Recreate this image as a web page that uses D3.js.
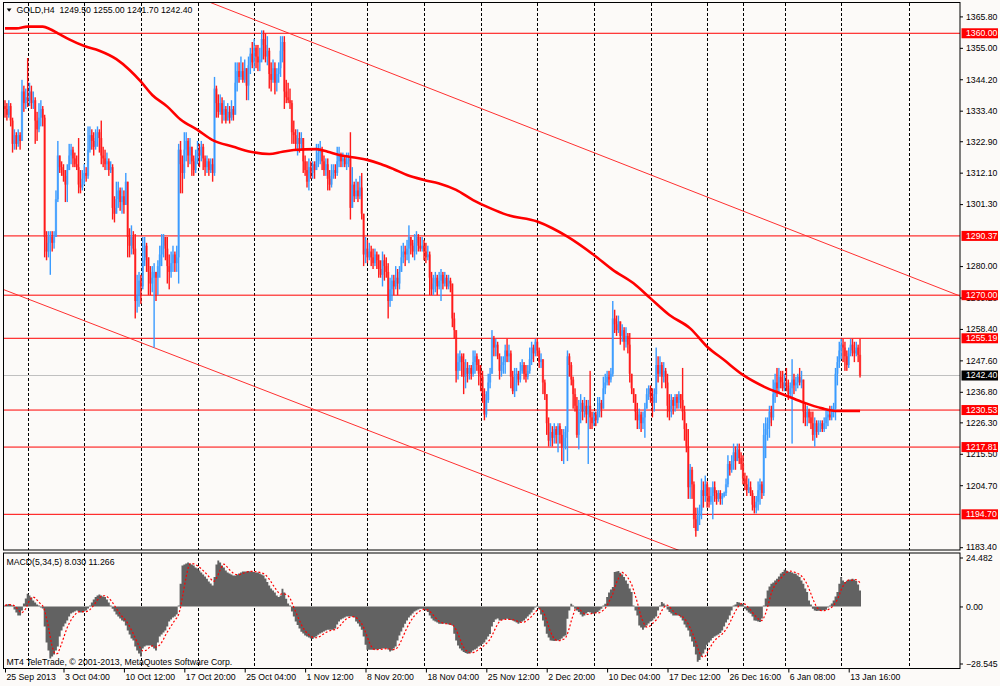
<!DOCTYPE html>
<html><head><meta charset="utf-8">
<script src="https://cdn.jsdelivr.net/npm/d3@7/dist/d3.min.js"></script>
<style>body{margin:0;background:#fcfaf8;overflow:hidden}</style>
</head><body><svg id="c" width="1000" height="686"></svg>
<script>
// ---------- DATA (GOLD, H4) ----------
const firstOpen = 1335;
const closes = [
1334,1332,1335,1330,1322,1325,1322,1325,1323,1340,
1336,1338,1337,1340,1336,1337,1330,1327,1331,1334,
1331,1290,1285,1288,1290,1288,1290,1303,1318,1314,
1313,1311,1308,1313,1318,1320,1317,1315,1314,1308,
1307,1310,1312,1311,1320,1325,1323,1321,1324,1326,
1324,1318,1317,1315,1316,1313,1314,1300,1298,1303,
1306,1302,1304,1301,1309,1290,1287,1290,1286,1268,
1270,1275,1273,1282,1287,1283,1278,1274,1276,1278,
1276,1280,1284,1287,1290,1286,1280,1278,1281,1284,
1281,1283,1320,1315,1312,1320,1323,1318,1321,1316,
1313,1317,1320,1318,1321,1317,1314,1316,1313,1315,
1312,1341,1336,1333,1336,1332,1334,1330,1333,1331,
1334,1332,1343,1347,1345,1347,1344,1348,1342,1349,
1353,1350,1355,1352,1350,1351,1358,1356,1352,1354,
1346,1344,1348,1343,1346,1348,1354,1357,1340,1338,
1337,1336,1326,1325,1322,1324,1322,1324,1316,1313,
1309,1314,1312,1315,1313,1316,1319,1320,1316,1313,
1315,1310,1308,1311,1313,1312,1316,1318,1316,1317,
1315,1316,1317,1300,1308,1304,1306,1304,1307,1298,
1284,1286,1283,1285,1283,1281,1284,1282,1279,1277,
1282,1280,1278,1268,1272,1275,1273,1276,1274,1278,
1283,1285,1284,1286,1290,1287,1285,1288,1290,1287,
1286,1287,1285,1283,1284,1276,1272,1274,1276,1273,
1275,1277,1274,1276,1273,1275,1274,1262,1258,1244,
1247,1249,1247,1242,1245,1243,1245,1243,1247,1249,
1246,1243,1242,1236,1229,1234,1240,1243,1255,1252,
1253,1249,1244,1246,1247,1251,1249,1250,1242,1237,
1240,1243,1241,1244,1246,1243,1242,1244,1248,1252,
1250,1254,1251,1247,1248,1240,1236,1226,1220,1223,
1221,1224,1222,1225,1222,1218,1221,1223,1249,1246,
1241,1236,1232,1222,1230,1233,1230,1232,1229,1232,
1228,1226,1229,1227,1230,1233,1231,1238,1240,1242,
1241,1243,1262,1260,1258,1261,1256,1258,1254,1256,
1253,1243,1238,1236,1230,1227,1229,1226,1228,1231,
1236,1238,1235,1233,1236,1246,1243,1246,1242,1244,
1240,1232,1230,1234,1232,1235,1233,1236,1234,1230,
1224,1218,1204,1210,1205,1193,1189,1194,1196,1203,
1201,1205,1201,1199,1201,1204,1202,1200,1202,1200,
1201,1202,1205,1212,1210,1213,1216,1213,1217,1214,
1212,1207,1205,1203,1204,1202,1198,1197,1199,1203,
1205,1202,1222,1224,1226,1230,1228,1236,1240,1238,
1242,1240,1238,1240,1239,1236,1238,1241,1239,1240,
1242,1240,1241,1230,1228,1230,1228,1226,1222,1226,
1223,1225,1226,1224,1226,1228,1229,1228,1230,1231,
1243,1247,1251,1253,1252,1249,1246,1250,1253,1251,
1250,1252,1249.5,1242.4];
const highs = [
1337,1336,1337,1336,1331,1327,1326,1327,1326,1344,
1342,1341,1351.5,1343,1342,1340,1338,1333,1336,1337,
1335,1332,1292,1292,1292,1292,1292,1306,1323,1318,
1316,1315,1313,1315,1322,1322,1321,1319,1318,1324,
1313,1313,1315,1314,1328,1328,1327,1326,1327,1328,
1327,1330,1321,1320,1319,1317,1316,1315,1304,1309,
1309,1307,1307,1306,1312,1306,1293,1294,1292,1291,
1277,1278,1277,1290,1290,1288,1283,1280,1280,1281,
1278,1282,1287,1291,1291,1290,1290,1284,1285,1287,
1285,1287,1322,1323,1318,1326,1326,1324,1324,1321,
1318,1320,1323,1322,1323,1322,1318,1318,1317,1317,
1317,1345,1342,1339,1339,1338,1337,1335,1336,1335,
1337,1335,1350,1350,1350,1352,1350,1351,1348,1352,
1355,1357,1358,1356,1356,1355,1361,1361,1360,1359,
1355,1350,1351,1350,1348,1350,1359,1359,1359,1344,
1343,1341,1337,1330,1327,1327,1326,1326,1322,1318,
1316,1317,1316,1316,1316,1322,1322,1323,1321,1318,
1317,1317,1313,1315,1315,1315,1321,1321,1319,1319,
1318,1319,1319,1326,1314,1309,1310,1309,1311,1312,
1297,1290,1289,1288,1287,1286,1286,1285,1284,1282,
1285,1284,1283,1281,1276,1277,1277,1280,1279,1280,
1287,1288,1287,1289,1294,1290,1289,1291,1292,1291,
1290,1290,1289,1288,1287,1285,1278,1277,1278,1277,
1278,1279,1278,1278,1277,1277,1276,1274,1264,1256,
1250,1251,1250,1250,1248,1247,1246,1246,1251,1251,
1250,1248,1246,1244,1238,1237,1243,1245,1258,1256,
1255,1254,1250,1249,1249,1253,1255,1253,1251,1244,
1245,1245,1244,1247,1248,1247,1246,1246,1252,1254,
1253,1255,1255,1252,1250,1246,1241,1236,1228,1226,
1225,1226,1225,1226,1226,1224,1224,1225,1251,1250,
1247,1242,1238,1235,1234,1236,1234,1235,1234,1234,
1244,1230,1230,1230,1235,1235,1234,1242,1243,1244,
1244,1245,1268,1265,1263,1263,1260,1260,1259,1259,
1257,1257,1243,1238,1236,1233,1231,1230,1230,1233,
1238,1239,1239,1238,1238,1252,1249,1249,1247,1247,
1245,1243,1236,1236,1235,1236,1236,1237,1236,1245,
1232,1226,1224,1212,1211,1206,1197,1197,1198,1207,
1206,1208,1206,1204,1204,1206,1206,1203,1203,1203,
1202,1202.5,1207,1215,1213,1215,1219,1218,1219,1219,
1216,1215,1209,1208,1207,1206,1203,1201,1201,1206,
1207,1206,1226,1228,1228,1232,1232,1241,1243,1245,
1245,1244,1244,1243,1245,1241,1240,1248,1243,1242,
1243,1245,1244,1236,1233,1232,1231,1230,1230,1228,
1227,1227,1227,1227,1228,1231,1231,1232,1232,1233,
1245,1249,1254,1255,1255,1254,1251,1252,1255,1255,
1254,1254,1253,1255];
const lows = [
1331,1330,1331,1328,1319,1320,1320,1321,1320,1323,
1333,1334,1334.7,1335,1334,1334,1322,1323,1326,1328,
1328,1283,1282,1283,1277,1285,1286,1290,1302,1312,
1311,1309,1302,1302,1313,1315,1314,1314,1313,1305,
1305,1306,1308,1309,1310,1319,1320,1318,1320,1321,
1319,1315,1314,1313,1313,1311,1312,1296,1295,1298,
1300,1299,1298,1298,1301,1283,1283,1284,1284,1262,
1264,1266,1267,1272,1280,1278,1270,1270,1271,1252,
1268,1270,1276,1280,1283,1282,1274,1272,1276,1278,
1278,1278,1274,1305,1305,1310,1316,1314,1315,1311,
1311,1312,1315,1314,1316,1313,1311,1312,1311,1312,
1309,1311,1331,1331,1332,1329,1330,1329,1330,1329,
1330,1330,1333,1340,1343,1344,1343,1343,1337,1337,
1346,1348,1347,1348,1347,1347,1350,1351,1350,1349,
1341,1340,1343,1339,1340,1343,1345,1350,1334,1336,
1336,1334,1322,1322,1320,1318,1319,1320,1312,1311,
1307,1306,1310,1310,1310,1313,1314,1315,1313,1311,
1311,1306,1306,1307,1310,1310,1311,1314,1314,1314,
1314,1313,1314,1296,1300,1302,1303,1302,1303,1296,
1280,1281,1281,1282,1280,1279,1280,1279,1276,1276,
1273,1275,1276,1262,1266,1268,1270,1272,1270,1272,
1278,1281,1280,1282,1281,1284,1283,1282,1284,1285,
1285,1285,1282,1281,1282,1270,1270,1270,1271,1270,
1272,1268,1272,1273,1272,1272,1271,1259,1255,1240,
1241,1244,1242,1236,1238,1240,1241,1241,1242,1243,
1244,1239,1237,1233,1227,1228,1233,1238,1243,1249,
1249,1248,1241,1242,1243,1243,1247,1247,1238,1236,
1235,1237,1239,1240,1243,1241,1240,1241,1243,1246,
1247,1249,1249,1245,1245,1236,1234,1222,1218,1218,
1218,1219,1219,1216,1219,1213,1212,1217,1213,1242,
1239,1231,1230,1221,1217,1226,1227,1228,1226,1212,
1224,1224,1225,1225,1226,1228,1228,1233,1236,1239,
1239,1240,1242,1257,1256,1257,1253,1254,1251,1252,
1250,1240,1236,1233,1227,1224,1224,1223,1224,1221,
1231,1234,1233,1228,1230,1233,1240,1242,1238,1240,
1238,1228,1227,1228,1229,1230,1231,1231,1231,1227,
1220,1216,1200,1200,1200,1190,1187,1191,1191,1193,
1197,1199,1197,1197,1198,1193,1199,1198,1199,1198,
1198,1200.5,1201,1204,1208,1209,1210,1210,1213,1212,
1210,1205,1203,1201,1202,1201,1196,1195,1195,1196,
1198,1200,1201,1214,1220,1221,1225,1227,1233,1235,
1236,1238,1237,1237,1237,1234,1235,1219,1236,1237,
1238,1239,1238,1226,1225,1225,1226,1224,1220,1218,
1221,1222,1223,1223,1223,1224,1225,1227,1227,1228,
1227,1239,1245,1248,1247,1244,1244,1245,1249,1249,
1247,1249,1247,1241.7];
// MACD(5,34,5) main values per bar
const macd = [
0.5,1.0,1.2,0.8,0,-1.5,-3,-4.5,-4.5,-2,
1.5,4,6.3,5.5,4.5,3,2,1,0.2,-0.5,
-1,-10,-18,-22,-26,-25,-24,-22,-20,-15,
-12,-10,-8.5,-7,-5,-3.5,-3,-2.5,-2,-2.5,
-3,-3,-2.5,-2,-1,0.5,2,3.5,4.7,5.5,
6,5.5,5,4.7,3.5,2,0.5,-1.2,-2.5,-4,
-5,-6,-7,-7.5,-9.5,-12,-14,-16,-17,-20,
-22,-23.5,-25,-21,-20,-19.5,-19.5,-19.5,-20,-21,
-22,-18,-15,-14,-13,-12,-10,-7.5,-6.5,-5.5,
-5,-4,0.5,11.3,20.5,21,21.5,22,21.5,21,
20.5,19.5,19,18,17,16,15,13.8,12.5,11.5,
10.5,14.7,21,23,22,20.5,19.5,18,17,16.5,
16,15.5,15.5,16,16.5,17,17.5,17.5,17.5,17.7,
17.5,17.5,17.2,17,17,16.5,16,15.5,14,12.2,
10.5,9,8,7,5.5,4.7,5.5,8.8,7,3.8,
1.5,0,-2.5,-5,-7.5,-9.3,-11,-12.7,-13.5,-14.5,
-15,-15.5,-16,-16.3,-15.5,-15,-14.2,-13.5,-13,-12.5,
-12,-11.7,-11.7,-11.7,-11.7,-11,-9,-7.5,-6.5,-6,
-5.5,-5,-5,-5,-5,-5.5,-7.5,-8.5,-10,-11.7,
-15,-19.2,-21.7,-21.7,-21.7,-21.7,-21.5,-21.5,-21.3,-21.3,
-21,-21,-20.8,-21.5,-22.5,-22,-21,-20,-17,-14.5,
-12.5,-10.5,-8.7,-7,-5.5,-4.5,-3.5,-2.5,-2,-1.5,
-1.2,-1.2,-1.5,-2,-2.8,-4.5,-6,-7,-7.5,-8,
-8.7,-8.7,-8.7,-8.5,-8.7,-9,-9.3,-9.5,-13.7,-17,
-19.5,-21,-22,-22.8,-23.3,-23.7,-23.5,-23,-22,-21.5,
-21,-20,-19.5,-18.8,-18,-16.5,-15,-13.8,-10,-7.8,
-6.5,-6,-7,-6.8,-6.5,-6.3,-6.2,-6.5,-6.8,-7,
-7.5,-8,-8.7,-8,-7.5,-7,-6,-5,-4,-3,
-1.7,-0.5,0.5,-1.2,-4,-7,-10,-13.7,-15.5,-17,
-17.2,-17.3,-17.2,-17,-16.7,-16,-15,-14.5,-6.2,-2,
1.3,0,-1.2,-2,-2.8,-4,-5,-4.5,-3.5,-2.8,
-3,-3.5,-3.7,-3.3,-2.8,-2,-1.2,0,1.3,4.7,
7,8.5,9.7,17.2,17.5,17.7,16.8,16,14.7,13,
11.3,9,7.2,0.5,-2,-4.5,-9.5,-10.5,-11.7,-10.5,
-9.5,-8.5,-7.5,-7,-6,-5,-2,0.5,2.2,1.5,
0.5,-1.5,-2.8,-3.5,-4.5,-4.5,-4.5,-4.5,-5.5,-7,
-9,-10.5,-12,-15,-17.5,-20.2,-24,-27.7,-26.8,-25,
-23.5,-21.5,-19.2,-18,-17,-15.8,-15,-14.5,-14,-13.3,
-12,-10,-8,-6.5,-4.5,-2,0,1,2.2,2,
1.5,1.3,-1.2,-2,-3,-3.7,-5,-7,-7.2,-7.5,
-7.8,-6,0,4,8,10,11.3,12,13,13.8,
15,16.5,17.2,18.3,18,17.5,17.2,17,16.5,16.3,
15.5,14.7,13,11.3,9,7.2,3,1,-1.2,-2,
-2.3,-2.2,-2.1,-2,-1.8,-1.7,-0.5,0.5,1.5,3,
5,7.2,11.3,14.7,13,12.2,12.8,13.3,13.5,13.8,
13.5,12.7,11,8.03];
// moving average : bar index / value
const maIdx = [0,6,12,20,24,28,34,42,50,59,66,72,78,86,93,102,110,121,130,140,147,153,165,171,177,184,192,199,206,213,222,230,239,248,257,266,282,290,298,312,322,333,342,352,363,372,381,391,402,413,422,433,441,453];
const maVal = [1361.7,1361.7,1362.3,1362.3,1361.4,1360.0,1357.9,1355.6,1354.0,1351.1,1347.4,1343.4,1338.8,1334.8,1330.4,1326.8,1323.3,1321.0,1319.3,1318.5,1319.3,1319.9,1320.2,1319.3,1318.2,1317.4,1316.5,1315.1,1313.3,1311.3,1309.6,1308.4,1306.2,1302.7,1299.9,1297.6,1295.3,1293.0,1290.1,1283.8,1278.7,1274.1,1268.9,1263.2,1258.6,1252.3,1247.7,1242.6,1238.6,1235.7,1233.4,1231.1,1230.2,1230.2];
const levels = [1360.00,1290.37,1270.00,1255.19,1230.53,1217.81,1194.70];
const bidPrice = 1242.40;
const priceTicks = [1365.80,1355.00,1344.20,1333.40,1322.90,1312.10,1301.30,1280.00,1269.20,1258.40,1247.60,1236.80,1226.30,1215.50,1204.70,1183.40];
const macdTicks = [24.482,0,-28.545];
const labelIdx = [0,31,63,95,127,159,191,223,255,287,319,351,383,415,447];
const labelText = ["25 Sep 2013","3 Oct 04:00","10 Oct 12:00","17 Oct 20:00","25 Oct 04:00","1 Nov 12:00","8 Nov 20:00","18 Nov 04:00","25 Nov 12:00","2 Dec 20:00","10 Dec 04:00","17 Dec 12:00","26 Dec 16:00","6 Jan 08:00","13 Jan 16:00"];
const gridIdx = [12,42,72,102,132,162,192,222,252,282,312,342,372,391,413,443,479];
const chanUpper = [[124.5,1366.6],[506,1269.7]];
const chanLower = [[-2.65,1272.4],[352.3,1183.5]];
const headerText = "GOLD,H4  1249.50 1255.00 1241.70 1242.40";
const macdText = "MACD(5,34,5) 8.030 11.266";
const copyText = "MT4 TeleTrade, \u00a9 2001-2013, MetaQuotes Software Corp.";

// ---------- LAYOUT ----------
const L=3, R=960, T=3, B=550, MT=553, MB=668.5;
const FONT="Liberation Sans, Arial, sans-serif", FS=8.7;
const BULL="#3a9bff", BEAR="#ff1a1a";

const svg=d3.select("#c").attr("font-family",FONT).attr("font-size",FS);
svg.append("rect").attr("width",1000).attr("height",686).attr("fill","#fcfaf8");
const defs=svg.append("defs");
defs.append("clipPath").attr("id","cm").append("rect").attr("x",L).attr("y",T).attr("width",R-L).attr("height",B-T);
defs.append("clipPath").attr("id","cd").append("rect").attr("x",L).attr("y",MT).attr("width",R-L).attr("height",MB-MT);

const x=d3.scaleLinear().domain([0,453]).range([5,5+453*1.8875]);
const y=d3.scaleLinear().domain([1183.4,1365.8]).range([547.2,16.4]);
const my=d3.scaleLinear().domain([-28.545,24.482]).range([663.5,557.5]);

// ---------- MAIN PANEL ----------
const gm=svg.append("g").attr("clip-path","url(#cm)");
gm.selectAll("line.grid").data(gridIdx).join("line")
  .attr("x1",d=>Math.round(x(d))+0.5).attr("x2",d=>Math.round(x(d))+0.5)
  .attr("y1",T).attr("y2",B).attr("stroke","#000").attr("stroke-dasharray","3,2");
gm.append("line").attr("x1",L).attr("x2",R).attr("y1",y(bidPrice)).attr("y2",y(bidPrice)).attr("stroke","#c0c0c0");
gm.selectAll("line.lvl").data(levels).join("line")
  .attr("x1",L).attr("x2",R).attr("y1",d=>y(d)).attr("y2",d=>y(d)).attr("stroke","#ff0000");
function ext(p,a,b){const s=(p[1][1]-p[0][1])/(p[1][0]-p[0][0]);return [[a,p[0][1]+(a-p[0][0])*s],[b,p[0][1]+(b-p[0][0])*s]];}
[chanUpper,chanLower].forEach(c=>{
  const e=ext(c,-20,560);
  gm.append("line").attr("x1",x(e[0][0])).attr("y1",y(e[0][1])).attr("x2",x(e[1][0])).attr("y2",y(e[1][1]))
    .attr("stroke","#ff3030").attr("stroke-width",1);
});
const bars=closes.map((c,i)=>{
  const o=i===0?firstOpen:closes[i-1];
  return {i,o,c,h:Math.max(highs[i],o,c),l:Math.min(lows[i],o,c),up:c>=o};
});
const gb=gm.append("g");
gb.selectAll("rect.body").data(bars).join("rect")
  .attr("x",d=>x(d.i)-1.15).attr("width",2.3)
  .attr("y",d=>y(Math.max(d.o,d.c))).attr("height",d=>Math.max(1,y(Math.min(d.o,d.c))-y(Math.max(d.o,d.c))))
  .attr("fill",d=>d.up?BULL:BEAR).attr("opacity",0.6);
gb.selectAll("rect.wick").data(bars).join("rect")
  .attr("x",d=>x(d.i)-0.7).attr("width",1.4)
  .attr("y",d=>y(d.h)).attr("height",d=>Math.max(1,y(d.l)-y(d.h)))
  .attr("fill",d=>d.up?BULL:BEAR);
const maPts=maIdx.map((d,k)=>[d,maVal[k]]);
gm.append("path").attr("d",d3.line().x(d=>x(d[0])).y(d=>y(d[1])).curve(d3.curveMonotoneX)(maPts))
  .attr("fill","none").attr("stroke","#ff0000").attr("stroke-width",2.6);

// header
svg.append("path").attr("d","M6.7,8.5 L11.5,8.5 L9.1,11.8 Z").attr("fill","#000");
svg.append("text").attr("x",16.5).attr("y",12.5).style("white-space","pre").attr("fill","#000").text(headerText);

svg.append("rect").attr("x",L+0.5).attr("y",T-0.5).attr("width",R-L-0.5).attr("height",B-T+0.5).attr("fill","none").attr("stroke","#000");

// price axis
const ga=svg.append("g").attr("transform",`translate(${R},0)`)
  .call(d3.axisRight(y).tickValues(priceTicks).tickSize(3).tickPadding(3).tickFormat(d3.format(".2f")));
ga.attr("font-family",FONT).attr("font-size",FS);
ga.select(".domain").remove();
const lb=svg.append("g");
levels.forEach(v=>{
  lb.append("rect").attr("x",R+1.5).attr("y",y(v)-5).attr("width",36.5).attr("height",10).attr("fill","#ff0000");
  lb.append("text").attr("x",R+6).attr("y",y(v)).attr("dy","0.34em").attr("fill","#fff").text(d3.format(".2f")(v));
});
lb.append("rect").attr("x",R+1.5).attr("y",y(bidPrice)-5).attr("width",36.5).attr("height",10).attr("fill","#000");
lb.append("text").attr("x",R+6).attr("y",y(bidPrice)).attr("dy","0.34em").attr("fill","#fff").text(d3.format(".2f")(bidPrice));

// ---------- MACD PANEL ----------
const gd=svg.append("g").attr("clip-path","url(#cd)");
gd.selectAll("line.grid").data(gridIdx).join("line")
  .attr("x1",d=>Math.round(x(d))+0.5).attr("x2",d=>Math.round(x(d))+0.5)
  .attr("y1",MT).attr("y2",MB).attr("stroke","#000").attr("stroke-dasharray","3,2");
const hw=1.8875/2;
const histPts=[];
macd.forEach((v,i)=>{histPts.push([x(i)-hw,v]);histPts.push([x(i)+hw,v]);});
gd.append("path")
  .attr("d",d3.area().x(d=>d[0]).y0(my(0)).y1(d=>{const yy=my(d[1]);return Math.abs(yy-my(0))<1?(d[1]>=0?my(0)-1:my(0)+1):yy;})(histPts))
  .attr("fill","#626262");
const signal=macd.map((d,i)=>d3.mean(macd.slice(Math.max(0,i-4),i+1)));
gd.append("path").attr("d",d3.line().x((d,i)=>x(i)).y(d=>my(d))(signal))
  .attr("fill","none").attr("stroke","#ff0000").attr("stroke-width",1.2).attr("stroke-dasharray","2,2");
svg.append("text").attr("x",6.5).attr("y",564.5).attr("fill","#000").text(macdText);
svg.append("text").attr("x",6.5).attr("y",665).attr("fill","#000").text(copyText);
svg.append("rect").attr("x",L+0.5).attr("y",MT).attr("width",R-L-0.5).attr("height",MB-MT).attr("fill","none").attr("stroke","#000");
const gma=svg.append("g").attr("transform",`translate(${R},0)`)
  .call(d3.axisRight(my).tickValues(macdTicks).tickSize(3).tickPadding(3).tickFormat(d=>d===0?"0.00":d3.format(".3f")(d)));
gma.attr("font-family",FONT).attr("font-size",FS);
gma.select(".domain").remove();

// ---------- TIME AXIS ----------
const gt=svg.append("g").attr("transform",`translate(0,${MB})`)
  .call(d3.axisBottom(x).tickValues(labelIdx).tickSize(4).tickPadding(1).tickFormat((d,i)=>labelText[i]));
gt.attr("font-family",FONT).attr("font-size",FS);
gt.select(".domain").remove();
gt.selectAll("text").attr("text-anchor","start").attr("dx",1);
</script>
</body></html>
